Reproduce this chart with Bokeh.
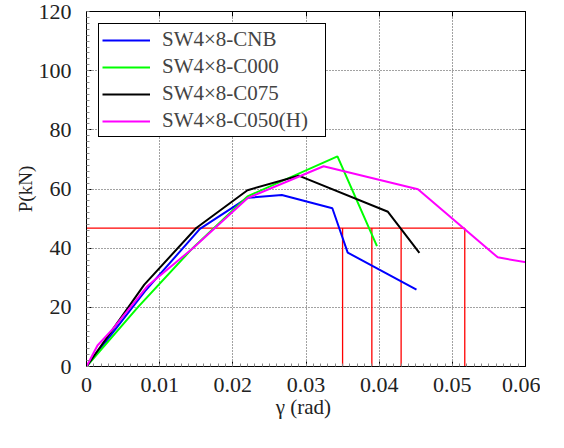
from bokeh.plotting import figure
from bokeh.models import (Range1d, FixedTicker, LinearAxis, Legend, LegendItem,
                          CustomJSTickFormatter)
from bokeh.embed import file_html
from bokeh.resources import INLINE

# ---- data ----
cnb_x = [0, 0.008, 0.0155, 0.022, 0.0267, 0.0336, 0.0357, 0.0451]
cnb_y = [0, 25.5, 46.5, 57, 58, 53.5, 38.5, 26]

c000_x = [0, 0.007, 0.0145, 0.022, 0.0343, 0.0397]
c000_y = [0, 20, 40, 57.5, 71, 40.7]

c075_x = [0, 0.0079, 0.015, 0.022, 0.029, 0.0412, 0.0455]
c075_y = [0, 27.7, 46.8, 59.6, 64.5, 52.3, 38.4]

c050h_x = [0, 0.0015, 0.0036, 0.0083, 0.0145, 0.022, 0.0324, 0.0453, 0.0562, 0.0601]
c050h_y = [0, 7.1, 12.7, 27.1, 39.9, 56.9, 67.7, 59.9, 36.9, 35.2]

ref_level = 46.8
ref_x = [0.0350, 0.0390, 0.0430, 0.0517]

x_ticks = [0, 0.01, 0.02, 0.03, 0.04, 0.05, 0.06]
x_tick_labels = ["0", "0.01", "0.02", "0.03", "0.04", "0.05", "0.06"]
y_ticks = [0, 20, 40, 60, 80, 100, 120]

series_names = ["SW4\u00d78-CNB", "SW4\u00d78-C000", "SW4\u00d78-C075", "SW4\u00d78-C050(H)"]
series_colors = ["#0000ff", "#00ff00", "#000000", "#ff00ff"]

LEGEND_FONT = "Liberation Serif"
AXIS_FONT = "serif"

p = figure(width=540, height=430, output_backend="svg", toolbar_location=None,
           x_range=Range1d(0, 0.06), y_range=Range1d(0, 120),
           min_border_left=86, min_border_right=15, min_border_top=11, min_border_bottom=64)
p.background_fill_color = "white"
p.border_fill_color = "white"
p.outline_line_color = "black"
p.outline_line_width = 1

# axes
for ax in (p.xaxis[0], p.yaxis[0]):
    ax.major_label_text_font = AXIS_FONT
    ax.major_label_text_font_size = "22px"
    ax.major_label_text_color = "#222222"
    ax.major_tick_in = 5
    ax.major_tick_out = 0
    ax.minor_tick_in = 3
    ax.minor_tick_out = 0
    ax.minor_tick_line_color = "#888888"
    ax.axis_line_color = "black"
    ax.major_tick_line_color = "black"
    ax.axis_label_text_font = AXIS_FONT
    ax.axis_label_text_color = "#222222"
    ax.axis_label_standoff = 0
    ax.axis_label_text_font_style = "normal"

p.xaxis[0].ticker = FixedTicker(ticks=x_ticks,
                                minor_ticks=[i * 0.001 for i in range(61)])
p.xaxis[0].major_label_overrides = {t: l for t, l in zip(x_ticks, x_tick_labels)}
p.xaxis[0].major_label_standoff = 11
p.xaxis[0].axis_label = "\u03b3  (rad)"
p.xaxis[0].axis_label_text_font_size = "21px"

p.yaxis[0].ticker = FixedTicker(ticks=y_ticks, minor_ticks=[i * 2 for i in range(61)])
p.yaxis[0].major_label_standoff = 15
p.yaxis[0].axis_label = "P(kN)"
p.yaxis[0].axis_label_text_font_size = "19px"

blank = CustomJSTickFormatter(code="return ''")
top_ax = LinearAxis(ticker=FixedTicker(ticks=x_ticks), formatter=blank,
                    major_tick_in=5, major_tick_out=0, minor_tick_out=0,
                    major_label_standoff=0, major_label_text_font_size="0px",
                    axis_label_standoff=0, axis_label_text_font_size="0px")
right_ax = LinearAxis(ticker=FixedTicker(ticks=y_ticks), formatter=blank,
                      major_tick_in=5, major_tick_out=0, minor_tick_out=0,
                      major_label_standoff=0, major_label_text_font_size="0px",
                      axis_label_standoff=0, axis_label_text_font_size="0px")
p.add_layout(top_ax, "above")
p.add_layout(right_ax, "right")

# grid
for g in (p.xgrid[0], p.ygrid[0]):
    g.grid_line_color = "#444444"
    g.grid_line_dash = "1 2"
    g.grid_line_width = 1
p.xgrid[0].ticker = FixedTicker(ticks=x_ticks)
p.ygrid[0].ticker = FixedTicker(ticks=y_ticks)

# red reference lines: one horizontal, four verticals
p.segment(x0=[0] + ref_x, y0=[ref_level] + [0] * len(ref_x),
          x1=[max(ref_x)] + ref_x, y1=[ref_level] * (len(ref_x) + 1),
          line_color="#ff0000", line_width=1.3)

# curves
xs = [cnb_x, c000_x, c075_x, c050h_x]
ys = [cnb_y, c000_y, c075_y, c050h_y]
renderers = []
for x, y, c in zip(xs, ys, series_colors):
    r = p.line(x, y, line_color=c, line_width=2)
    renderers.append(r)

legend = Legend(items=[LegendItem(label=n, renderers=[r]) for n, r in zip(series_names, renderers)],
                location="top_left", margin=12, padding=3, spacing=2,
                glyph_width=48, glyph_height=24, label_height=24, label_width=160,
                label_standoff=12, label_text_font=LEGEND_FONT, label_text_font_size="21px",
                border_line_color="black", border_line_width=1, border_line_alpha=1,
                background_fill_color="white", background_fill_alpha=1)
p.add_layout(legend)

open("out.html", "w").write(file_html(p, INLINE))
